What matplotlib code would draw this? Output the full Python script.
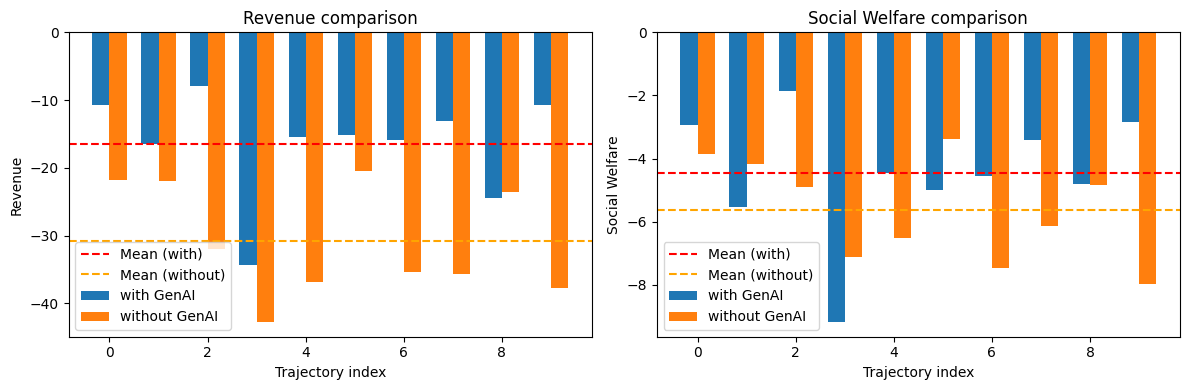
import matplotlib
matplotlib.use("Agg")
import matplotlib.pyplot as plt
from matplotlib.ticker import MultipleLocator
import numpy as np

# data
traj = np.arange(10)
rev_with = [-10.8, -16.5, -7.9, -34.3, -15.4, -15.1, -15.9, -13.05, -24.4, -10.8]
rev_without = [-21.8, -21.9, -32.0, -42.8, -36.8, -20.4, -35.4, -35.7, -23.5, -37.7]
sw_with = [-2.93, -5.53, -1.85, -9.19, -4.45, -4.99, -4.55, -3.41, -4.80, -2.84]
sw_without = [-3.85, -4.17, -4.90, -7.12, -6.52, -3.38, -7.47, -6.14, -4.84, -7.98]

width = 0.35

fig, axes = plt.subplots(1, 2, figsize=(12, 4), dpi=100)

panels = [
    (axes[0], rev_with, rev_without, "Revenue", "Revenue comparison"),
    (axes[1], sw_with, sw_without, "Social Welfare", "Social Welfare comparison"),
]

for ax, with_vals, without_vals, ylab, title in panels:
    ax.bar(traj - width / 2, with_vals, width, label="with GenAI")
    ax.bar(traj + width / 2, without_vals, width, label="without GenAI")
    ax.axhline(np.mean(with_vals), color="red", linestyle="--", label="Mean (with)")
    ax.axhline(np.mean(without_vals), color="orange", linestyle="--", label="Mean (without)")
    ax.set_xlabel("Trajectory index")
    ax.set_ylabel(ylab)
    ax.set_title(title)
    ax.legend(loc="lower left")

axes[0].yaxis.set_major_locator(MultipleLocator(10))

plt.tight_layout()
plt.savefig("out.png", bbox_inches="tight")
